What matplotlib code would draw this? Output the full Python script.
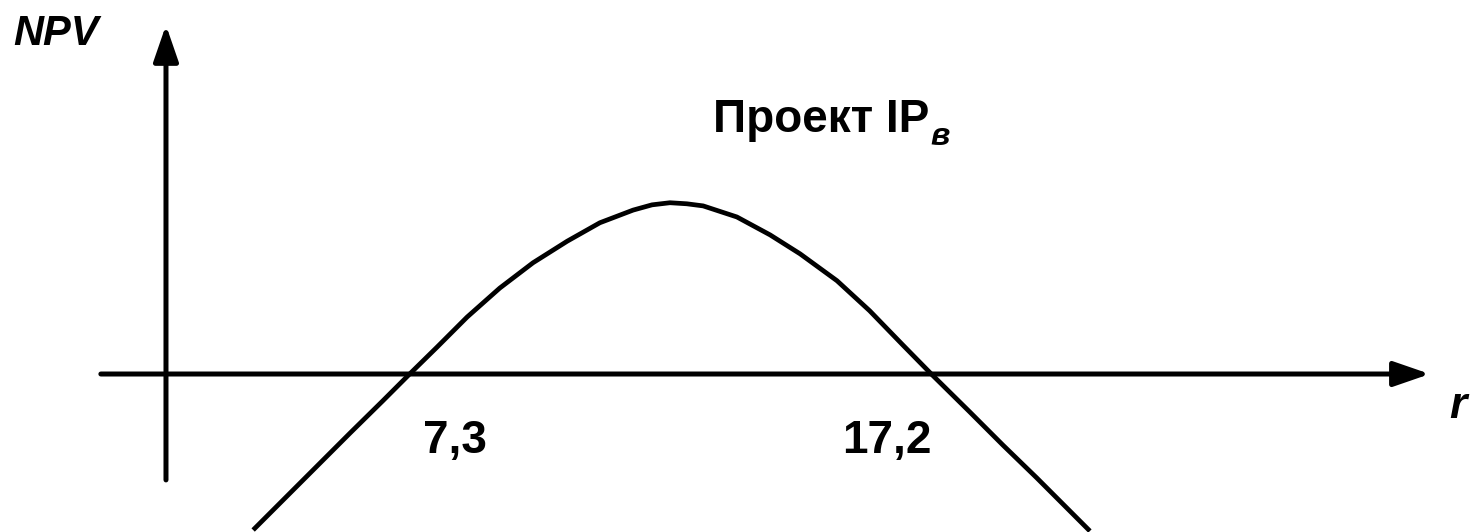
import matplotlib
matplotlib.use("Agg")
import matplotlib.pyplot as plt

# NPV profile of project IP_в
# (r in %, NPV in arbitrary units)
r_vals = [4.33, 4.90, 5.54, 6.17, 6.79, 7.30, 7.82, 8.39, 9.01, 9.64, 10.29,
          10.91, 11.54, 11.90, 12.24, 12.56, 12.87, 13.51, 14.14, 14.71, 15.41,
          16.03, 16.66, 17.20, 17.93, 18.56, 19.20, 19.83, 20.21]
npv_vals = [-2.96, -2.39, -1.75, -1.12, -0.51, 0.00, 0.51, 1.08, 1.63, 2.11, 2.52,
            2.87, 3.11, 3.21, 3.25, 3.23, 3.19, 2.98, 2.64, 2.28, 1.77,
            1.20, 0.55, 0.00, -0.72, -1.35, -1.97, -2.60, -2.98]

irr_labels = ["7,3", "17,2"]
irr_label_x = [8.16, 16.36]
title = "Проект IP"
title_sub = "в"

fig = plt.figure(figsize=(14.73, 5.32), dpi=100)
ax = fig.add_axes([0, 0, 1, 1])
ax.set_xlim(-0.474, 27.48)
ax.set_ylim(-2.998, 7.097)
ax.axis("off")

font = "Liberation Sans"
arrow = dict(arrowstyle="-|>,head_length=1.1,head_width=0.38", lw=3.6,
             color="black", mutation_scale=20, shrinkA=0, shrinkB=0)

# axes with arrows
ax.annotate("", xy=(26.66, 0), xytext=(1.44, 0), arrowprops=arrow)
ax.annotate("", xy=(2.676, 6.62), xytext=(2.676, -2.01), arrowprops=arrow)

# curve
ax.plot(r_vals, npv_vals, color="black", lw=3.4, solid_capstyle="butt",
        solid_joinstyle="round")

# labels
ax.text(-0.228, 6.243, "NPV", fontsize=30, fontweight="bold", style="italic",
        family=font, ha="left", va="baseline")
ax.text(27.02, -0.835, "r", fontsize=32, fontweight="bold", style="italic",
        family=font, ha="left", va="baseline")
for lab, x in zip(irr_labels, irr_label_x):
    ax.text(x, -1.50, lab, fontsize=33, fontweight="bold", family=font,
            ha="center", va="baseline")

t = ax.text(13.06, 4.592, title, fontsize=33, fontweight="bold", family=font,
            ha="left", va="baseline")
fig.canvas.draw()
bb = t.get_window_extent()
x_end = ax.transData.inverted().transform((bb.x1, bb.y0))[0]
ax.text(x_end + 0.02, 4.345, title_sub, fontsize=23, fontweight="bold",
        style="italic", family=font, ha="left", va="baseline")

fig.savefig("out.png", dpi=100, facecolor="white")
